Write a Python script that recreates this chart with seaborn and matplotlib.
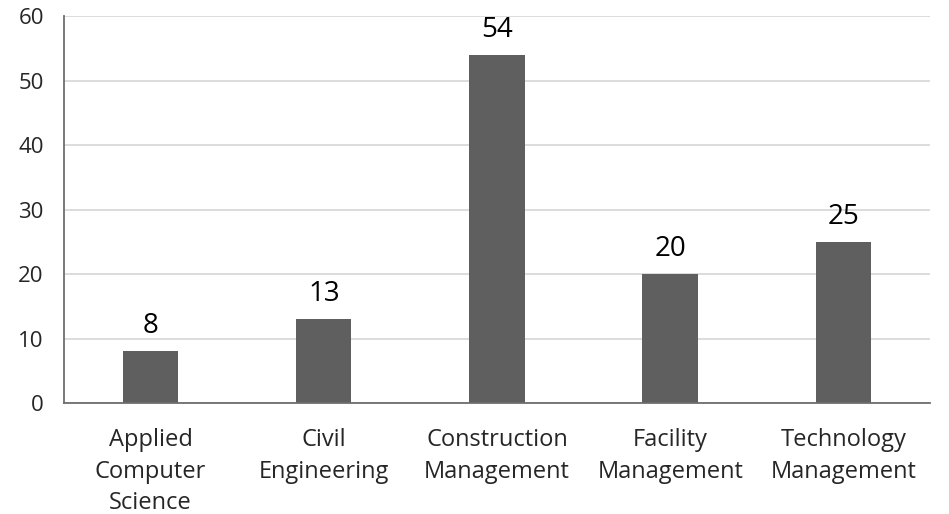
import seaborn as sns
import matplotlib.pyplot as plt
import pandas as pd

categories = ['Applied\nComputer\nScience', 'Civil\nEngineering', 'Construction\nManagement',
              'Facility\nManagement', 'Technology\nManagement']
counts = [8, 13, 54, 20, 25]

df = pd.DataFrame({'programa': categories, 'n': counts})

sns.set_style('white')
plt.rcParams['font.family'] = ['Open Sans', 'DejaVu Sans']

fig = plt.figure(figsize=(9.49, 5.14), dpi=100)
ax = fig.add_axes([0.0674, 0.216, 0.9126, 0.7525])

sns.barplot(data=df, x='programa', y='n', color='#5f5f5f', saturation=1, width=0.32,
            linewidth=0, ax=ax)

# rótulos de valor
for i, v in enumerate(counts):
    ax.annotate(str(v), (i, v), xytext=(0, 13), textcoords='offset points',
                ha='center', va='baseline', fontsize=20, color='black')

ax.set_xlim(-0.5, len(categories) - 0.5)
ax.set_ylim(0, 60)
ax.set_yticks(range(0, 61, 10))
ax.set_xticks([-0.5, len(categories) - 0.5], minor=True)
ax.yaxis.grid(True, color='#d9d9d9', linewidth=1.3)
ax.set_axisbelow(True)
ax.set_xlabel('')
ax.set_ylabel('')

for s in ['top', 'right']:
    ax.spines[s].set_visible(False)
for s in ['left', 'bottom']:
    ax.spines[s].set_color('#6e6e6e')
    ax.spines[s].set_linewidth(1.3)

ax.tick_params(axis='y', length=11, width=1.3, color='#6e6e6e', direction='inout', labelsize=16, pad=9)
ax.tick_params(axis='x', length=6, width=1.3, color='#6e6e6e', direction='out', labelsize=17, pad=12)
ax.tick_params(axis='x', which='minor', length=11, width=1.3, color='#6e6e6e', direction='inout')
for lbl in ax.get_xticklabels():
    lbl.set_linespacing(1.42)

fig.savefig('out.png', dpi=100)
